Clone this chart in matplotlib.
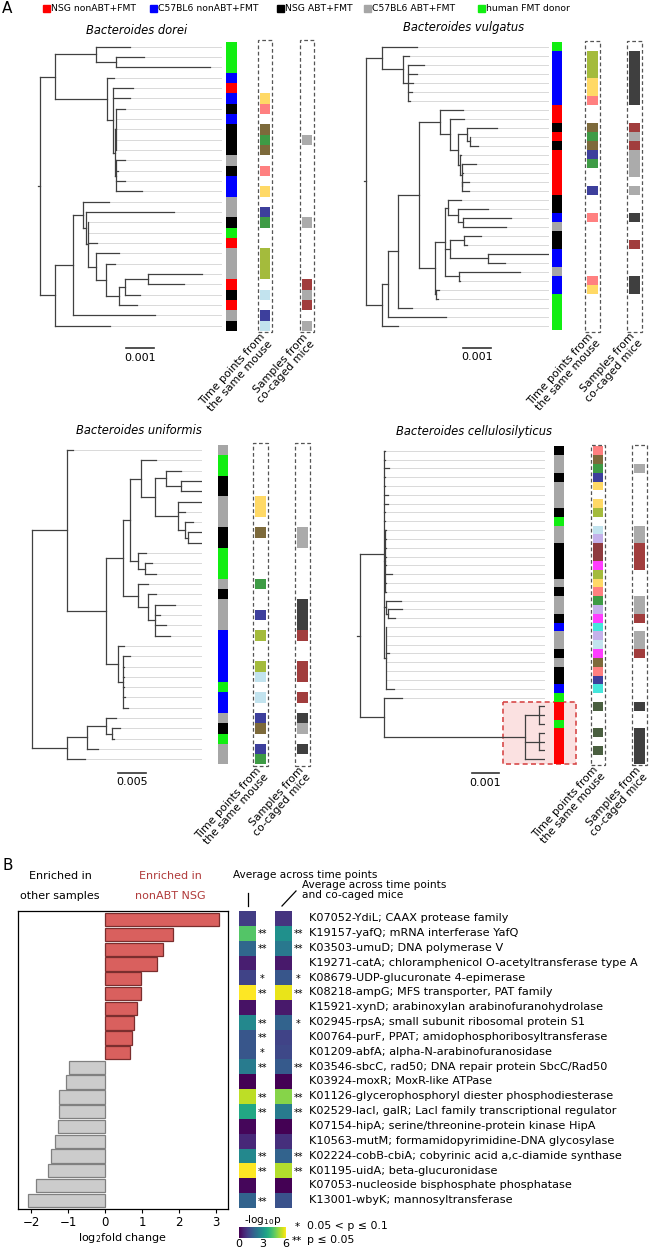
import matplotlib
matplotlib.use('Agg')
import matplotlib.pyplot as plt
import numpy as np
from matplotlib.patches import Rectangle
from matplotlib.lines import Line2D
from matplotlib.collections import LineCollection
from matplotlib.cm import ScalarMappable
from matplotlib.colors import Normalize

# ---------------- data: panel A ----------------
legend_labels = ['NSG nonABT+FMT', 'C57BL6 nonABT+FMT', 'NSG ABT+FMT',
                 'C57BL6 ABT+FMT', 'human FMT donor']
legend_codes = ['R', 'B', 'K', 'A', 'H']
group_colors = {'R': '#ff0000', 'B': '#0000ff', 'K': '#000000',
                'A': '#a6a6a6', 'H': '#11ee11'}
mouse_colors = {'y': '#ffd966', 'p': '#ff8080', 'b': '#7d6a3b', 'g': '#3e9b45',
                'n': '#3d3f9c', 'o': '#a4bb3c', 'l': '#c2e3ee', 'm': '#ff3dff',
                'v': '#c4b1ea', 'r': '#8e3b3f', 't': '#45e6dc', 'd': '#4a5f40'}
cage_colors = {'a': '#ababab', 'r': '#a13d3d', 'k': '#3f3f3f'}

species = ['Bacteroides dorei', 'Bacteroides vulgatus',
           'Bacteroides uniformis', 'Bacteroides cellulosilyticus']

# branch lengths in units of 1e-4 substitutions per site
newick = [
    "(((x:12.3,(x:10,x:33.6):7.3):14.5,(x:2.4,(x:7.1,x:6.2,((x:3.4,x:0.2,x:0.2,x:0.2,x:0.2):0.2,"
    "(x:3.4,x:0.9,x:3.4,x:9.6):0.2):0.8):1.9):18.7):5.4,(((x:9.4,(x:31.4,(x:0.1,x:0.1,x:3.4,"
    "(x:8.4,(x:3.2,(((x:19.3,x:12.7):8.1,x:5.1):2.4,x:6.6):4.4):3.7):2.9):0.6):1.2):3.6,"
    "x:29.5):6.3,x:19.6):5.4):0.8",
    "((x:12.6,(x:2.0,(x:6.0,x:3.3,x:2.0,x:1.7,x:0.9):1.6):7.7):6.1,(((((x:8.5,(x:4.9,((x:11.3,"
    "(x:0.1,x:2.8):1.2):3.0,(x:0.4,(x:5.1,x:0.6,(x:2.4,x:2.6):0.1):0.6):0.6):3.0):3.7):7.6,"
    "(((x:4.6,(x:11.0,(x:17.3,x:15.5):1.8):3.7):1.2,((x:6.3,x:1.0):5.2,(x:22.6,x:6.1):14.0):1.8,"
    "(x:22.3,x:0.4):5.1):3.7,(x:1.0,x:0.5):0.5):5.7):7.7,x:4.9):3.7,x:21.3):2.2,x:5.9):6.1):0.6",
    "((x:12,((((x:27,((x:27,(x:36,x:36):27):21,(x:42,x:12,(x:15,(x:24,x:24):6):12):42):25):20,"
    "(x:16,(x:14,x:20):13):14):12,(x:19,(x:15,(x:36,x:9,x:20,x:28):12):19):26):30,"
    "(x:12,(x:12,x:2,x:2,x:2,x:3,x:8):10):20):72):63,(((x:18,(x:14,x:3):10):36,x:20):36,x:33):63):0",
    "((x:0.1,x:0.1,x:1.7,x:0.1,x:0.1,x:1.2,x:1.2,x:0.1,x:0.1,(x:0.1,x:0.1,x:0.1,x:0.1,x:0.1,x:2.4,"
    "x:0.1,x:0.1):0.3,(x:5.4,(x:5.3,x:2.6):0.6):0.6,(x:0.1,x:0.1,x:0.1,x:1.2,x:0.1,x:0.1,x:0.1,"
    "x:3.0):0.4):8.8,(x:6.4,((x:2.4,x:2.4,x:2.4):4.8,(x:2.4,x:2.4,x:2.4):4.8,x:7.2):51):8.7):1.0",
]
group_strip = ["HHHBRBKBKKKAKBBAAKHRAAARKRAK",
               "HBBBBBBRRKRKRRRRRKKBAKKBBABBHHHH",
               "AHHKKAAAKKHHHAKAAABBBBBHBBAKHAA",
               "KAAKAAAKHAAKKKKAKAAKBAAKAKKBHRRHRRRR"]
mouse_strip = [".....yp.bgb.p.y.ng..ooo.l.nl",
               ".oooyyp..bgbng..n..p......py....",
               ".....yy.b....g..n.o..ol.l.nb.ng",
               "pbgny.yo.lvrrmoypgvmtvlmbpnt.d..d.d."]
cage_strip = [".........a.......a.....rar.a",
              ".kkkkkk..raraaa.a..k..r...kk....",
              "........aa.....kkkr..rr.r.ka.k.",
              "..a......aarrr...aar.aar.....k..kkkk"]
scale_values = [0.001, 0.001, 0.005, 0.001]
scale_labels = ['0.001', '0.001', '0.005', '0.001']
highlight = [None, None, None, (28, 35)]   # leaves inside the red box

# ---------------- data: panel B ----------------
ko_labels = ['K07052-YdiL; CAAX protease family',
             'K19157-yafQ; mRNA interferase YafQ',
             'K03503-umuD; DNA polymerase V',
             'K19271-catA; chloramphenicol O-acetyltransferase type A',
             'K08679-UDP-glucuronate 4-epimerase',
             'K08218-ampG; MFS transporter, PAT family',
             'K15921-xynD; arabinoxylan arabinofuranohydrolase',
             'K02945-rpsA; small subunit ribosomal protein S1',
             'K00764-purF, PPAT; amidophosphoribosyltransferase',
             'K01209-abfA; alpha-N-arabinofuranosidase',
             'K03546-sbcC, rad50; DNA repair protein SbcC/Rad50',
             'K03924-moxR; MoxR-like ATPase',
             'K01126-glycerophosphoryl diester phosphodiesterase',
             'K02529-lacI, galR; LacI family transcriptional regulator',
             'K07154-hipA; serine/threonine-protein kinase HipA',
             'K10563-mutM; formamidopyrimidine-DNA glycosylase',
             'K02224-cobB-cbiA; cobyrinic acid a,c-diamide synthase',
             'K01195-uidA; beta-glucuronidase',
             'K07053-nucleoside bisphosphate phosphatase',
             'K13001-wbyK; mannosyltransferase']
log2fc = [3.09, 1.83, 1.58, 1.40, 0.98, 0.97, 0.86, 0.79, 0.74, 0.68,
          -0.97, -1.06, -1.24, -1.26, -1.29, -1.35, -1.46, -1.54, -1.87, -2.10]
logp_time = [1.1, 4.4, 2.0, 0.5, 1.2, 6.0, 0.3, 2.8, 1.6, 1.6,
             2.5, 0.0, 5.4, 3.6, 0.1, 0.7, 2.8, 6.0, 0.1, 1.9]
logp_cage = [0.9, 3.0, 2.4, 0.4, 1.6, 5.8, 0.4, 1.9, 1.2, 1.3,
             1.7, 0.0, 4.9, 2.5, 0.0, 0.8, 1.9, 5.3, 0.0, 1.5]
stars_time = ['', '**', '**', '', '*', '**', '', '**', '**', '*',
              '**', '', '**', '**', '', '', '**', '**', '', '**']
stars_cage = ['', '**', '**', '', '*', '**', '', '*', '', '',
              '**', '', '**', '**', '', '', '**', '**', '', '']

# ---------------- helpers ----------------
W, H = 650, 1249
UNIT = 1e-4


def fx(x):
    return x / W


def fy(y):
    return 1 - y / H


def rect(x0, y0, x1, y1):
    return [fx(x0), fy(y1), (x1 - x0) / W, (y1 - y0) / H]


def parse_newick(s):
    s = s.replace(' ', '')
    pos = 0

    def node():
        nonlocal pos
        kids = []
        if s[pos] == '(':
            pos += 1
            kids.append(node())
            while s[pos] == ',':
                pos += 1
                kids.append(node())
            pos += 1
        else:
            while s[pos] not in ':,)':
                pos += 1
        length = 0.0
        if pos < len(s) and s[pos] == ':':
            pos += 1
            start = pos
            while pos < len(s) and s[pos] not in ',)':
                pos += 1
            length = float(s[start:pos])
        return (length, kids)
    return node()


def tree_layout(tree):
    segs, tips = [], []

    def walk(nd, xp):
        length, kids = nd
        x = xp + length * UNIT
        if not kids:
            y = len(tips)
            tips.append(x)
        else:
            ys = [walk(k, x) for k in kids]
            y = (ys[0] + ys[-1]) / 2
            segs.append([(x, ys[0]), (x, ys[-1])])
        segs.append([(xp, y), (x, y)])
        return y
    walk(tree, 0.0)
    return segs, tips


fig = plt.figure(figsize=(6.5, 12.49), dpi=100)

# layout of each tree panel (pixels)
panels = [
    dict(root=37.7, lead=222, ppu=2.8, y0=46.7, y1=325.7, s1=(226, 237), s2=(260, 270),
         s3=(301.7, 312.3), title=(137, 30), sb=(126, 347.7, 357.5)),
    dict(root=364, lead=549, ppu=2.73, y0=46.7, y1=325.7, s1=(551.7, 562.3), s2=(587.3, 598.3),
         s3=(629.3, 640), title=(464, 27), sb=(463.3, 347.7, 357.5)),
    dict(root=31.7, lead=201.7, ppu=0.554, y0=450, y1=759.3, s1=(218.3, 227.7), s2=(255, 265.7),
         s3=(297.3, 308.3), title=(138.5, 431), sb=(118.3, 772.7, 782)),
    dict(root=357.3, lead=545, ppu=2.77, y0=450.7, y1=759.3, s1=(554.3, 564.3), s2=(592.7, 603.3),
         s3=(634.3, 645.3), title=(474, 431), sb=(471.7, 773.3, 782.5)),
]

for k, lay in enumerate(panels):
    segs, tips = tree_layout(parse_newick(newick[k]))
    n = len(tips)
    sp = (lay['y1'] - lay['y0']) / (n - 1)
    top, bot = lay['y0'] - sp / 2, lay['y1'] + sp / 2
    ppu = lay['ppu']
    xl, xr = lay['root'] - 2, lay['lead']
    ax = fig.add_axes(rect(xl, top, xr, bot))
    ax.set_xlim((xl - lay['root']) / ppu * UNIT, (xr - lay['root']) / ppu * UNIT)
    ax.set_ylim(n - 0.5, -0.5)
    ax.axis('off')
    xmax = ax.get_xlim()[1]
    ax.hlines(np.arange(n), tips, xmax, color='#d9d9d9', lw=0.7, zorder=1)
    ax.add_collection(LineCollection(segs, colors='#404040', lw=0.9, zorder=2,
                                     capstyle='projecting'))

    if highlight[k] is not None:
        a, b = highlight[k]
        bx0 = (502.7 - lay['root']) / ppu * UNIT
        bx1 = (576 - lay['root']) / ppu * UNIT
        ax.add_patch(Rectangle((bx0, a + 0.45), bx1 - bx0, b - a + 0.1, facecolor='#fbe1e1',
                               edgecolor='#d84a4a', lw=1.2, ls=(0, (3, 2)), clip_on=False, zorder=0))

    # scale bar
    sbx, sby, sbt = lay['sb']
    x0d = (sbx - lay['root']) / ppu * UNIT
    ax.plot([x0d, x0d + scale_values[k]], [(sby - lay['y0']) / sp] * 2, color='#333333',
            lw=1.2, clip_on=False)
    ax.text(x0d + scale_values[k] / 2, (sbt - lay['y0']) / sp, scale_labels[k],
            ha='center', va='center', fontsize=8)

    fig.text(fx(lay['title'][0]), fy(lay['title'][1]), species[k], ha='center', va='center',
             fontsize=8.3, style='italic')

    strips = [(lay['s1'], group_strip[k], group_colors, False),
              (lay['s2'], mouse_strip[k], mouse_colors, True),
              (lay['s3'], cage_strip[k], cage_colors, True)]
    for (sx0, sx1), codes, pal, boxed in strips:
        axs = fig.add_axes(rect(sx0, top, sx1, bot))
        axs.set_xlim(0, 1)
        axs.set_ylim(n - 0.5, -0.5)
        axs.axis('off')
        idx = [i for i, c in enumerate(codes) if c != '.']
        axs.barh(idx, 1.0, height=1.0, left=0, color=[pal[codes[i]] for i in idx],
                 linewidth=0)
        if boxed:
            axs.add_patch(Rectangle((-0.17, -0.005), 1.34, 1.01, transform=axs.transAxes,
                                    fill=False, ec='#555555', lw=0.9, ls=(0, (3, 2)),
                                    clip_on=False))

    for (sx0, sx1), txt in [(lay['s2'], 'Time points from\nthe same mouse'),
                            (lay['s3'], 'Samples from\nco-caged mice')]:
        fig.text(fx((sx0 + sx1) / 2 - 5), fy(bot + 1), txt, rotation=48,
                 rotation_mode='anchor', ha='right', va='top', fontsize=7.8,
                 linespacing=1.0)

# legend
fig.text(fx(2), fy(1), 'A', fontsize=11, va='top', ha='left')
leg_x = [43, 150, 277, 364, 478]
for lx, lab, code in zip(leg_x, legend_labels, legend_codes):
    fig.patches.append(Rectangle((fx(lx), fy(11.5)), 6.5 / W, 6.5 / H,
                                 transform=fig.transFigure, color=group_colors[code]))
    fig.text(fx(lx + 8), fy(8.3), lab, fontsize=6.7, va='center', ha='left')

# ---------------- panel B ----------------
fig.text(fx(2), fy(866), 'B', fontsize=11, va='center', ha='left')
fig.text(fx(60), fy(876), 'Enriched in', ha='center', va='center', fontsize=8)
fig.text(fx(60), fy(896), 'other samples', ha='center', va='center', fontsize=8)
fig.text(fx(170.7), fy(876), 'Enriched in', ha='center', va='center', fontsize=8,
         color='#b03a3a')
fig.text(fx(170.7), fy(896), 'nonABT NSG', ha='center', va='center', fontsize=8,
         color='#b03a3a')

axb = fig.add_axes(rect(17.7, 910.7, 228.3, 1209.3))
rows = np.arange(len(log2fc))
bar_fc = ['#d9605e' if v > 0 else '#cccccc' for v in log2fc]
bar_ec = ['#7a2e2e' if v > 0 else '#808080' for v in log2fc]
axb.barh(rows, log2fc, height=0.9, color=bar_fc, edgecolor=bar_ec, linewidth=0.9)
axb.set_xlim(-2.37, 3.34)
axb.set_ylim(19.62, -0.62)
axb.set_yticks([])
axb.set_xticks([-2, -1, 0, 1, 2, 3])
axb.tick_params(axis='x', labelsize=8.5, length=3, width=0.8, pad=1.5)
for s in axb.spines.values():
    s.set_linewidth(0.9)
axb.set_xlabel(r'log$_2$fold change', fontsize=8, labelpad=2)

hm = [(239, 256, logp_time, stars_time, 262), (275.3, 292.3, logp_cage, stars_cage, 298.5)]
for hx0, hx1, vals, stars, star_x in hm:
    axh = fig.add_axes(rect(hx0, 910.7, hx1, 1207.7))
    axh.imshow(np.array(vals)[:, None], cmap='viridis', vmin=0, vmax=6, aspect='auto',
               interpolation='nearest')
    axh.axis('off')
    cw = hx1 - hx0
    for i, st in enumerate(stars):
        if st:
            axh.text(0.5 + (star_x - hx1) / cw, i + 0.1, st, ha='center', va='center',
                     fontsize=7, clip_on=False)
    if hx0 > 260:
        for i, lab in enumerate(ko_labels):
            axh.text(0.5 + (309 - hx1) / cw, i, lab, ha='left', va='center', fontsize=8.1,
                     clip_on=False)

fig.text(fx(233), fy(875), 'Average across time points', fontsize=7.6, va='center')
fig.text(fx(302), fy(880), 'Average across time points\nand co-caged mice', fontsize=7.6,
         va='top', linespacing=0.95)
fig.add_artist(Line2D([fx(247.5), fx(247.5)], [fy(893), fy(906)], color='black', lw=0.9))
fig.add_artist(Line2D([fx(282), fx(296)], [fy(906), fy(891)], color='black', lw=0.9))

cax = fig.add_axes(rect(239, 1227, 286, 1238))
cb = fig.colorbar(ScalarMappable(norm=Normalize(0, 6), cmap='viridis'), cax=cax,
                  orientation='horizontal', ticks=[0, 3, 6])
cb.outline.set_visible(False)
cax.tick_params(length=0, labelsize=8, pad=1)
cax.set_title(r'-log$_{10}$p', fontsize=7.5, pad=1.5)

fig.text(fx(297), fy(1227), '*', fontsize=7.5, ha='center', va='center')
fig.text(fx(307), fy(1226), '0.05 < p ≤ 0.1', fontsize=7.8, va='center')
fig.text(fx(297), fy(1241), '**', fontsize=7.5, ha='center', va='center')
fig.text(fx(307), fy(1240), 'p ≤ 0.05', fontsize=7.8, va='center')

fig.savefig('out.png', dpi=100)
